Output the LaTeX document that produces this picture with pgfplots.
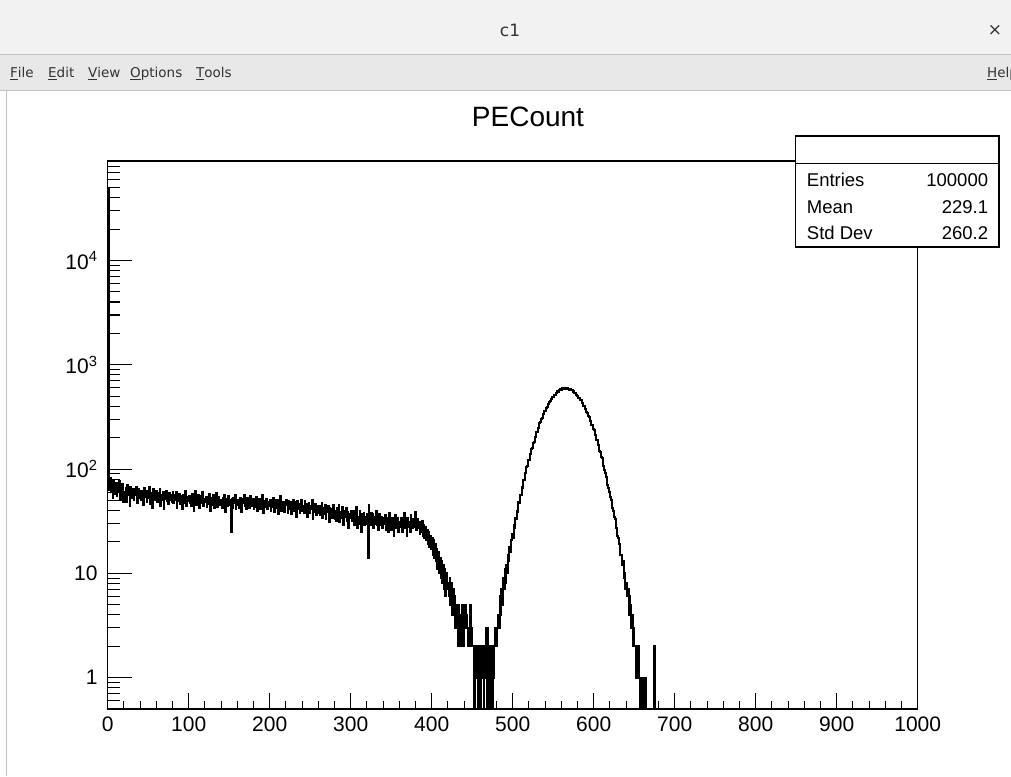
\documentclass[border=0pt]{standalone}
\usepackage{fontspec}
\setmainfont{Liberation Sans}
\newfontfamily\guifont{DejaVu Sans}
\usepackage{pgfplots}
\usepackage{pgfplotstable}
\pgfplotsset{compat=1.18}
\definecolor{titlebar}{HTML}{F2F2F2}
\definecolor{menubar}{HTML}{E8E8E8}
\definecolor{edgegrey}{HTML}{C2C2C2}

% PECount, one bin per unit from 0; empty bins written as 0.01 so the log axis drops them to the floor
\pgfplotstableread[row sep=\\]{
n\\
50000\\
75\\ 63\\ 82\\ 60\\ 70\\ 53\\ 79\\ 67\\ 58\\ 74\\ 55\\ 68\\ 62\\ 77\\ 51\\ 63\\ 56\\ 72\\ 48\\ 60\\
58\\ 66\\ 48\\ 71\\ 56\\ 63\\ 44\\ 68\\ 60\\ 53\\ 64\\ 50\\ 61\\ 56\\ 68\\ 47\\ 58\\ 64\\ 53\\ 61\\
51\\ 62\\ 58\\ 45\\ 66\\ 54\\ 59\\ 48\\ 61\\ 53\\ 67\\ 46\\ 56\\ 59\\ 42\\ 64\\ 53\\ 58\\ 50\\ 61\\
48\\ 59\\ 52\\ 64\\ 44\\ 56\\ 51\\ 60\\ 41\\ 57\\ 52\\ 62\\ 49\\ 54\\ 46\\ 59\\ 51\\ 56\\ 48\\ 60\\
47\\ 57\\ 50\\ 60\\ 42\\ 54\\ 49\\ 58\\ 46\\ 55\\ 50\\ 41\\ 57\\ 47\\ 52\\ 62\\ 44\\ 54\\ 49\\ 55\\
47\\ 55\\ 44\\ 58\\ 50\\ 40\\ 53\\ 61\\ 45\\ 52\\ 48\\ 56\\ 42\\ 50\\ 55\\ 47\\ 60\\ 44\\ 52\\ 48\\
54\\ 43\\ 51\\ 46\\ 58\\ 40\\ 50\\ 53\\ 45\\ 56\\ 42\\ 51\\ 48\\ 59\\ 43\\ 50\\ 54\\ 45\\ 51\\ 46\\
42\\ 53\\ 47\\ 57\\ 39\\ 49\\ 52\\ 44\\ 55\\ 45\\ 50\\ 25\\ 52\\ 42\\ 53\\ 47\\ 57\\ 41\\ 49\\ 45\\
50\\ 42\\ 53\\ 45\\ 39\\ 52\\ 47\\ 57\\ 44\\ 49\\ 41\\ 53\\ 45\\ 50\\ 42\\ 55\\ 47\\ 44\\ 52\\ 41\\
49\\ 43\\ 54\\ 40\\ 48\\ 44\\ 52\\ 41\\ 51\\ 46\\ 56\\ 38\\ 46\\ 49\\ 43\\ 52\\ 41\\ 48\\ 44\\ 51\\
40\\ 48\\ 43\\ 53\\ 39\\ 47\\ 42\\ 51\\ 45\\ 37\\ 50\\ 43\\ 55\\ 40\\ 47\\ 42\\ 48\\ 39\\ 45\\ 51\\
45\\ 38\\ 49\\ 41\\ 48\\ 37\\ 46\\ 43\\ 51\\ 40\\ 45\\ 48\\ 35\\ 49\\ 41\\ 46\\ 38\\ 45\\ 51\\ 40\\
44\\ 38\\ 49\\ 39\\ 46\\ 35\\ 43\\ 47\\ 38\\ 44\\ 41\\ 51\\ 33\\ 43\\ 39\\ 46\\ 36\\ 44\\ 41\\ 38\\
44\\ 36\\ 41\\ 47\\ 34\\ 42\\ 37\\ 45\\ 33\\ 41\\ 39\\ 44\\ 31\\ 42\\ 36\\ 41\\ 34\\ 45\\ 37\\ 33\\
40\\ 32\\ 42\\ 35\\ 45\\ 31\\ 39\\ 34\\ 43\\ 37\\ 29\\ 40\\ 35\\ 42\\ 32\\ 39\\ 27\\ 37\\ 34\\ 40\\
37\\ 32\\ 40\\ 29\\ 38\\ 33\\ 43\\ 27\\ 35\\ 30\\ 40\\ 33\\ 25\\ 37\\ 32\\ 38\\ 29\\ 35\\ 30\\ 37\\
14\\ 45\\ 35\\ 29\\ 38\\ 32\\ 37\\ 27\\ 35\\ 30\\ 40\\ 29\\ 34\\ 26\\ 37\\ 32\\ 29\\ 35\\ 27\\ 34\\
30\\ 36\\ 26\\ 34\\ 31\\ 25\\ 38\\ 30\\ 33\\ 26\\ 34\\ 28\\ 23\\ 31\\ 36\\ 27\\ 30\\ 34\\ 25\\ 31\\
28\\ 34\\ 25\\ 33\\ 30\\ 38\\ 27\\ 31\\ 23\\ 34\\ 28\\ 31\\ 25\\ 36\\ 30\\ 27\\ 33\\ 28\\ 39\\ 30\\
26\\ 33\\ 27\\ 31\\ 24\\ 30\\ 25\\ 32\\ 23\\ 29\\ 22\\ 28\\ 21\\ 26\\ 19\\ 25\\ 18\\ 23\\ 17\\ 22\\
15\\ 21\\ 14\\ 19\\ 13\\ 17\\ 11\\ 16\\ 10\\ 14\\ 9\\ 13\\ 8\\ 12\\ 7\\ 11\\ 6\\ 10\\ 7\\ 8\\
6\\ 9\\ 5\\ 8\\ 4\\ 7\\ 5\\ 6\\ 3\\ 5\\ 4\\ 2\\ 5\\ 3\\ 2\\ 4\\ 3\\ 5\\ 2\\ 4\\
5\\ 3\\ 4\\ 3\\ 2\\ 3\\ 5\\ 2\\ 3\\ 2\\ 2\\ 0.01\\ 1\\ 2\\ 1\\ 2\\ 0.01\\ 1\\ 2\\ 0.01\\
1\\ 2\\ 1\\ 0.01\\ 2\\ 1\\ 3\\ 0.01\\ 3\\ 1\\ 0.01\\ 2\\ 1\\ 2\\ 0.01\\ 1\\ 2\\ 3\\ 2\\ 3\\
3\\ 4\\ 3\\ 6\\ 4\\ 7\\ 5\\ 9\\ 7\\ 11\\ 8\\ 12\\ 10\\ 15\\ 13\\ 18\\ 16\\ 21\\ 24\\ 22\\
29\\ 27\\ 34\\ 33\\ 40\\ 39\\ 48\\ 47\\ 57\\ 56\\ 67\\ 66\\ 79\\ 78\\ 91\\ 92\\ 105\\ 107\\ 121\\ 123\\
139\\ 141\\ 157\\ 160\\ 179\\ 182\\ 201\\ 204\\ 225\\ 228\\ 250\\ 254\\ 276\\ 280\\ 303\\ 307\\ 331\\ 336\\ 360\\ 363\\
388\\ 391\\ 416\\ 419\\ 444\\ 446\\ 470\\ 472\\ 494\\ 496\\ 517\\ 518\\ 538\\ 537\\ 556\\ 553\\ 572\\ 568\\ 584\\ 579\\
593\\ 586\\ 599\\ 590\\ 603\\ 588\\ 597\\ 585\\ 592\\ 578\\ 584\\ 567\\ 571\\ 553\\ 556\\ 536\\ 538\\ 517\\ 507\\ 505\\
484\\ 481\\ 459\\ 456\\ 433\\ 429\\ 405\\ 401\\ 377\\ 372\\ 349\\ 344\\ 321\\ 316\\ 293\\ 289\\ 266\\ 262\\ 240\\ 236\\
215\\ 212\\ 191\\ 189\\ 169\\ 167\\ 149\\ 147\\ 130\\ 129\\ 113\\ 106\\ 97\\ 92\\ 84\\ 79\\ 71\\ 66\\ 60\\ 54\\
50\\ 47\\ 42\\ 40\\ 35\\ 33\\ 28\\ 27\\ 23\\ 22\\ 19\\ 18\\ 15\\ 15\\ 12\\ 13\\ 9\\ 10\\ 7\\ 8\\
6\\ 7\\ 4\\ 6\\ 5\\ 3\\ 4\\ 2\\ 3\\ 2\\ 2\\ 1\\ 2\\ 1\\ 2\\ 1\\ 0.01\\ 1\\ 1\\ 0.01\\
1\\ 0.01\\ 1\\ 0.01\\ 0.01\\ 0.01\\ 0.01\\ 0.01\\ 0.01\\ 0.01\\ 0.01\\ 0.01\\ 0.01\\ 0.01\\ 2\\ 0.01\\ 0.01\\ 0.01\\ 0.01\\ 0.01\\
}\pecount

\begin{document}
\begin{tikzpicture}
\useasboundingbox (0pt,0pt) rectangle (1011pt,776pt);
% window chrome
\begin{scope}[x=1pt,y=1pt]
\fill[white] (0,0) rectangle (1011,776);
\fill[titlebar] (0,722) rectangle (1011,776);
\draw[edgegrey] (0,721.5) -- (1011,721.5);
\fill[menubar] (0,686) rectangle (1011,721);
\draw[edgegrey] (0,685.5) -- (1011,685.5);
\draw[edgegrey] (6.5,0) -- (6.5,685);
\node[font=\guifont\fontsize{17}{20}\selectfont, text=black!80] at (510,746) {c1};
\node[font=\guifont\fontsize{17}{20}\selectfont, text=black!80] at (995,746) {×};
\begin{scope}[every node/.style={anchor=base west, inner sep=0pt, text=black!80,
    font=\guifont\fontsize{13.5}{16}\selectfont}]
  \node at (10,698) {\underline{F}ile};
  \node at (48,698) {\underline{E}dit};
  \node at (88,698) {\underline{V}iew};
  \node at (130,698) {\underline{O}ptions};
  \node at (196,698) {\underline{T}ools};
  \node at (987,698) {\underline{H}elp};
\end{scope}
\end{scope}

% histogram and x axis
\begin{axis}[
  at={(107.7pt,67pt)}, anchor=south west,
  scale only axis, width=810pt, height=548pt,
  xmin=0, xmax=1000, ymode=log, ymin=0.5, ymax=9e4,
  axis line style={line width=1.1pt},
  tick style={line width=1.1pt, black},
  tick align=inside, xtick pos=left, ytick=\empty,
  xtick={0,100,200,300,400,500,600,700,800,900,1000},
  xticklabels={0,100,200,300,400,500,600,700,800,900,1000},
  minor x tick num=4,
  major tick length=16pt, minor tick length=8pt,
  xticklabel style={font=\fontsize{21}{24}\selectfont, inner sep=0pt, yshift=-8pt},
]
\addplot[const plot mark left, black, line width=2pt, mark=none]
  table[x expr=\coordindex, y=n] {\pecount};
\end{axis}

% y axis with its own tick lengths
\begin{axis}[
  at={(107.7pt,67pt)}, anchor=south west,
  scale only axis, width=810pt, height=548pt,
  xmin=0, xmax=1000, ymode=log, ymin=0.5, ymax=9e4,
  hide x axis, axis y line*=left,
  axis line style={line width=1.1pt},
  tick style={line width=1.1pt, black},
  tick align=inside,
  ytick={1,10,100,1000,10000},
  yticklabels={1,10,10\textsuperscript{2},10\textsuperscript{3},10\textsuperscript{4}},
  minor ytick={0.5,0.6,0.7,0.8,0.9,2,3,4,5,6,7,8,9,20,30,40,50,60,70,80,90,
    200,300,400,500,600,700,800,900,2000,3000,4000,5000,6000,7000,8000,9000,
    20000,30000,40000,50000,60000,70000,80000,90000},
  major tick length=24pt, minor tick length=12pt,
  yticklabel style={font=\fontsize{21}{24}\selectfont, inner sep=0pt, xshift=-10pt},
]
\end{axis}

% stats box
\begin{scope}[x=1pt,y=1pt]
\draw[line width=1.1pt, fill=white] (795.7,529) rectangle (999,640);
\draw[line width=1.1pt] (795.7,612.5) -- (999,612.5);
\begin{scope}[every node/.style={inner sep=0pt, font=\fontsize{18.5}{22}\selectfont}]
  \node[anchor=base west] at (806.7,589.3) {Entries};
  \node[anchor=base west] at (806.7,562) {Mean};
  \node[anchor=base west] at (806.7,536) {Std Dev};
  \node[anchor=base east] at (988.3,589.3) {100000};
  \node[anchor=base east] at (988.3,562) {229.1};
  \node[anchor=base east] at (988.3,536) {260.2};
\end{scope}
\node[anchor=base, inner sep=0pt, font=\fontsize{28}{32}\selectfont] at (528,649) {PECount};
\end{scope}
\end{tikzpicture}
\end{document}
